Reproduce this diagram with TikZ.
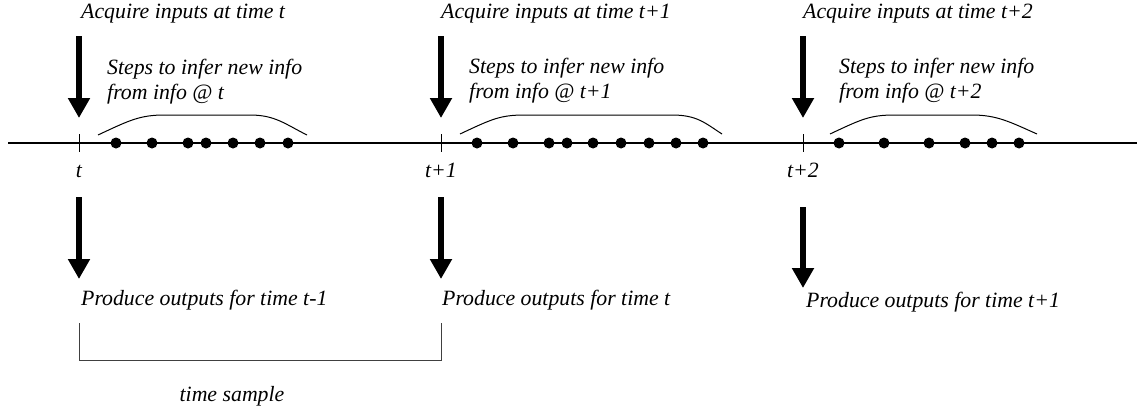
\documentclass[tikz,border=0pt]{standalone}
\usepackage{fontspec}
\setmainfont{Liberation Serif}
\usetikzlibrary{arrows.meta}
\begin{document}
\begin{tikzpicture}[x=1pt,y=-1pt,
  lbl/.style={inner sep=0pt,anchor=base west,font=\fontsize{21.8}{24.3}\selectfont\itshape},
  lblc/.style={lbl,anchor=base},
  bigarrow/.style={line width=5.5pt,-{Triangle[width=21pt,length=20pt]}},
  axis/.style={line width=1.1pt},
  tick/.style={line width=0.8pt},
  arcline/.style={line width=1pt},
  dot/.style={circle,fill=black,inner sep=0pt,minimum size=11pt},
  bracket/.style={line width=1pt,draw=black!75}]
\useasboundingbox (0,0) rectangle (1139,407);
% timeline
\coordinate (L) at (8,143);
\coordinate (R) at (1137,143);
\draw[axis] (L) -- (R);
% ticks
\foreach \n/\x in {a/79,b/441,c/803}{
  \coordinate (tk\n) at (\x,143);
  \draw[tick] (\x,134) -- (\x,152);
}
% tick labels
\node[lblc] (la) at (79,177) {t};
\node[lblc] (lb) at (441,177) {t+1};
\node[lblc] (lc) at (803,177) {t+2};
% top labels
\node[lbl] (ta) at (81,18) {Acquire inputs at time t};
\node[lbl] (tb) at (441,18) {Acquire inputs at time t+1};
\node[lbl] (tc) at (803,18) {Acquire inputs at time t+2};
% top arrows
\coordinate (ua1) at (79,36); \coordinate (ua2) at (79,118);
\coordinate (ub1) at (441,36); \coordinate (ub2) at (441,118);
\coordinate (uc1) at (803,36); \coordinate (uc2) at (803,118);
\draw[bigarrow] (ua1) -- (ua2);
\draw[bigarrow] (ub1) -- (ub2);
\draw[bigarrow] (uc1) -- (uc2);
% steps labels (base = last line)
\node[lbl,align=left,anchor=base west] (sa) at (107,99) {Steps to infer new info\\from info @ t};
\node[lbl,align=left,anchor=base west] (sb) at (469,98) {Steps to infer new info\\from info @ t+1};
\node[lbl,align=left,anchor=base west] (sc) at (839,98) {Steps to infer new info\\from info @ t+2};
% arcs
\draw[arcline] (98,135) .. controls (130,120) and (140,115) .. (165,115) -- (250,115) .. controls (275,115) and (285,124) .. (307,135);
\draw[arcline] (460,134) .. controls (492,119) and (500,115) .. (525,115) -- (672,115) .. controls (697,115) and (705,123) .. (722,134);
\draw[arcline] (830,134) .. controls (862,119) and (870,115) .. (895,115) -- (972,115) .. controls (997,115) and (1010,122) .. (1037,134);
% dots
\foreach \x [count=\i] in {116,152,188,206,233,260,288}{ \node[dot] (da\i) at (\x,143) {}; }
\foreach \x [count=\i] in {477,513,549,567,593,621,649,676,703}{ \node[dot] (db\i) at (\x,143) {}; }
\foreach \x [count=\i] in {839,884,929,965,992,1019}{ \node[dot] (dc\i) at (\x,143) {}; }
% bottom arrows
\coordinate (da1s) at (79,197); \coordinate (da1e) at (79,279);
\coordinate (db1s) at (441,197); \coordinate (db1e) at (441,279);
\coordinate (dc1s) at (803,207); \coordinate (dc1e) at (803,288);
\draw[bigarrow] (da1s) -- (da1e);
\draw[bigarrow] (db1s) -- (db1e);
\draw[bigarrow] (dc1s) -- (dc1e);
% bottom labels
\node[lbl] (pa) at (81,305) {Produce outputs for time t-1};
\node[lbl] (pb) at (442,305) {Produce outputs for time t};
\node[lbl] (pc) at (806,307) {Produce outputs for time t+1};
% bracket
\coordinate (bl) at (79,323); \coordinate (br) at (441,323);
\draw[bracket] (bl) -- (79,360) -- (441,360) -- (br);
\node[lblc] (ts) at (232,401) {time sample};
\end{tikzpicture}
\end{document}
